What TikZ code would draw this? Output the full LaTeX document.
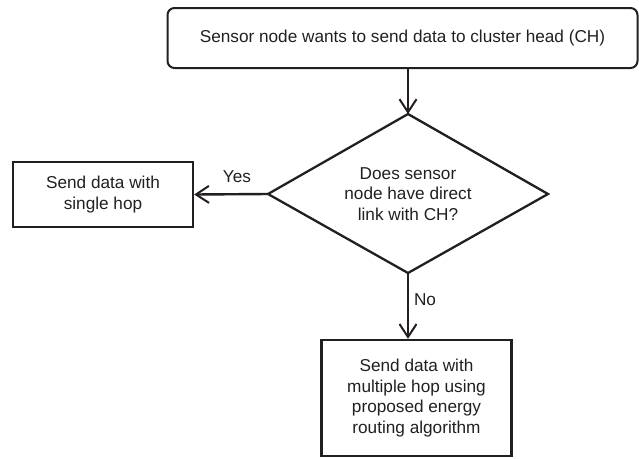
\documentclass[tikz,border=0pt]{standalone}
\usepackage{fontspec}
\setmainfont{Liberation Sans}
\usetikzlibrary{shapes.geometric,arrows.meta}
\definecolor{ink}{HTML}{231F20}
\tikzset{
  every node/.style={text=ink, font=\fontsize{17.2}{20.5}\selectfont},
  box/.style={draw=ink, line width=2.3pt, align=center, inner sep=0pt},
  arr/.style={draw=ink, line width=2.4pt, -{Straight Barb[length=13pt,width=17pt,line width=2pt]}},
  lbl/.style={inner sep=0pt}
}
\begin{document}
\begin{tikzpicture}[x=1pt,y=-1pt]
\useasboundingbox (0,0) rectangle (639,458);
% top rounded box
\node[box, rounded corners=7pt, line width=2pt, minimum width=470pt, minimum height=60pt] (start) at (402.5,38) {Sensor node wants to send data to cluster head (CH)};
% diamond as drawn polygon
\coordinate (dc) at (408,194);
\coordinate (dt) at (408,114);
\coordinate (dr) at (548,194);
\coordinate (db) at (408,273);
\coordinate (dl) at (268,194);
\draw[draw=ink, line width=2.3pt, line join=miter] (dt) -- (dr) -- (db) -- (dl) -- cycle;
\node[align=center, inner sep=0pt] (q) at (dc) {Does sensor\\node have direct\\link with CH?};
% left box
\node[box, minimum width=180pt, minimum height=65pt] (single) at (103,194.5) {Send data with\\single hop};
% bottom box
\node[box, minimum width=190pt, minimum height=116pt] (multi) at (416.5,398) {Send data with\\multiple hop using\\proposed energy\\routing algorithm};
% connectors
\draw[arr, line width=1.5pt] (start.south -| dt) -- (dt);
\draw[arr] (dl) -- (single.east);
\draw[arr] (db) -- (multi.north -| db);
% labels
\node[lbl] (yes) at (237,177) {Yes};
\node[lbl] (no) at (425,300) {No};
\end{tikzpicture}
\end{document}
